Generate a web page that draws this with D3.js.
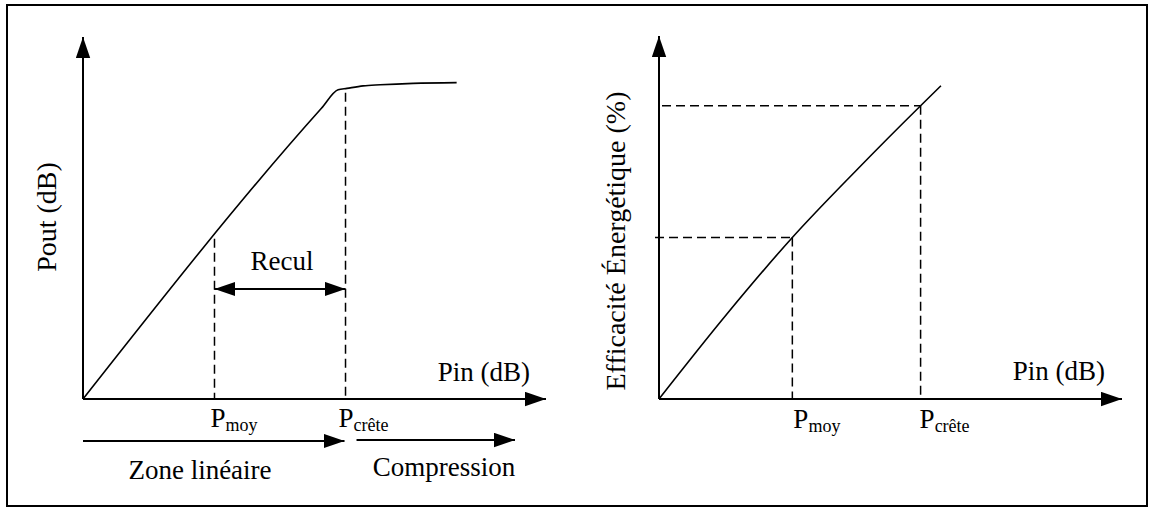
<!DOCTYPE html>
<html lang="fr">
<head>
    <meta charset="utf-8">
    <title>Recul et efficacité</title>
    <script src="https://d3js.org/d3.v7.min.js"></script>
    <style>
        body { margin: 0; background: #fff; }
    </style>
</head>
<body>
<div id="my_dataviz"></div>

<script>

// left chart : Pout vs Pin
var pinLeft  = [0, 51.5, 55.1, 57.0, 60.5, 64.2, 71.3, 80.7];
var poutLeft = [0, 80.3, 85.4, 85.8, 86.5, 86.8, 87.2, 87.4];

// right chart : efficiency vs Pin
var pinRight = [0, 14.4, 28.8, 42.7, 56.5, 60.9];
var effRight = [0, 23.0, 44.5, 63.1, 80.8, 86.3];

// reference powers
var pMoyLeft = 28.4, pCreteLeft = 56.7, reculLevel = 30.4;
var pMoyRight = 28.8, pCreteRight = 56.5;
var effMoy = 44.5, effCrete = 80.8;

var width = 1150, height = 508;
var serif = "'Liberation Serif', 'Times New Roman', Times, serif";

var svg = d3.select("#my_dataviz")
  .append("svg")
    .attr("width", width)
    .attr("height", height)
    .attr("font-family", serif);

svg.append("rect")
    .attr("x", 7).attr("y", 5)
    .attr("width", 1140).attr("height", 501)
    .attr("fill", "none")
    .attr("stroke", "#000")
    .attr("stroke-width", 2);

// arrow heads
var defs = svg.append("defs");
defs.append("marker")
    .attr("id", "head")
    .attr("markerUnits", "userSpaceOnUse")
    .attr("markerWidth", 22).attr("markerHeight", 15)
    .attr("refX", 21).attr("refY", 7.2)
    .attr("orient", "auto-start-reverse")
  .append("path")
    .attr("d", "M0,0 L21,7.2 L0,14.4 Z")
    .attr("fill", "#000");

function axes(g, x, y) {
  g.append("line")
      .attr("x1", x(0)).attr("y1", y(0))
      .attr("x2", x(100)).attr("y2", y(0))
      .attr("stroke", "#000").attr("stroke-width", 2)
      .attr("marker-end", "url(#head)");
  g.append("line")
      .attr("x1", x(0)).attr("y1", y(0))
      .attr("x2", x(0)).attr("y2", y(100))
      .attr("stroke", "#000").attr("stroke-width", 2)
      .attr("marker-end", "url(#head)");
}

function dashed(g, x1, y1, x2, y2) {
  g.append("line")
      .attr("x1", x1).attr("y1", y1)
      .attr("x2", x2).attr("y2", y2)
      .attr("stroke", "#000").attr("stroke-width", 1.5)
      .attr("stroke-dasharray", "9,5");
}

function label(g, x, y, size, txt) {
  return g.append("text")
      .attr("x", x).attr("y", y)
      .attr("font-family", serif)
      .attr("font-size", size)
      .attr("fill", "#000")
      .text(txt);
}

function subLabel(g, x, y, sub) {
  var t = label(g, x, y, 27, "P");
  t.append("tspan")
      .attr("dy", 4)
      .attr("font-size", 18)
      .text(sub);
}

// ---------- left chart
var xL = d3.scaleLinear().domain([0, 100]).range([83, 546]);
var yL = d3.scaleLinear().domain([0, 100]).range([399, 37]);
var gL = svg.append("g");
axes(gL, xL, yL);

var left = pinLeft.map(function(d, i) { return [d, poutLeft[i]]; });
gL.append("path")
    .datum(left)
    .attr("fill", "none")
    .attr("stroke", "#000")
    .attr("stroke-width", 1.6)
    .attr("d", d3.line()
      .x(function(d) { return xL(d[0]); })
      .y(function(d) { return yL(d[1]); })
      .curve(d3.curveMonotoneX));

// curve value at a given Pin (linear between points)
function interpLeft(v) {
  return d3.scaleLinear().domain(pinLeft).range(poutLeft)(v);
}

dashed(gL, xL(pMoyLeft), yL(interpLeft(pMoyLeft)), xL(pMoyLeft), yL(0));
dashed(gL, xL(pCreteLeft), yL(interpLeft(pCreteLeft)) + 4, xL(pCreteLeft), yL(0));

gL.append("line")
    .attr("x1", xL(pMoyLeft)).attr("y1", yL(reculLevel))
    .attr("x2", xL(pCreteLeft)).attr("y2", yL(reculLevel))
    .attr("stroke", "#000").attr("stroke-width", 2)
    .attr("marker-start", "url(#head)")
    .attr("marker-end", "url(#head)");

label(gL, (xL(pMoyLeft) + xL(pCreteLeft)) / 2 + 2, 270, 27, "Recul")
    .attr("text-anchor", "middle");

label(gL, 530, 381, 27, "Pin (dB)")
    .attr("text-anchor", "end");

label(gL, 0, 0, 28, "Pout (dB)")
    .attr("transform", "translate(56,217) rotate(-90)")
    .attr("text-anchor", "middle");

subLabel(gL, xL(pMoyLeft) - 4, 427, "moy");
subLabel(gL, xL(pCreteLeft) - 7, 427, "crête");

// zones under the axis
gL.append("line")
    .attr("x1", xL(0)).attr("y1", 441)
    .attr("x2", xL(pCreteLeft) - 1).attr("y2", 441)
    .attr("stroke", "#000").attr("stroke-width", 2)
    .attr("marker-end", "url(#head)");
gL.append("line")
    .attr("x1", xL(pCreteLeft) + 11).attr("y1", 440)
    .attr("x2", 515).attr("y2", 440)
    .attr("stroke", "#000").attr("stroke-width", 2)
    .attr("marker-end", "url(#head)");

label(gL, 200, 479, 27, "Zone linéaire")
    .attr("text-anchor", "middle");
label(gL, 444, 476, 27, "Compression")
    .attr("text-anchor", "middle");

// ---------- right chart
var xR = d3.scaleLinear().domain([0, 100]).range([659, 1122]);
var yR = d3.scaleLinear().domain([0, 100]).range([399, 36]);
var gR = svg.append("g");
axes(gR, xR, yR);

var right = pinRight.map(function(d, i) { return [d, effRight[i]]; });
gR.append("path")
    .datum(right)
    .attr("fill", "none")
    .attr("stroke", "#000")
    .attr("stroke-width", 1.6)
    .attr("d", d3.line()
      .x(function(d) { return xR(d[0]); })
      .y(function(d) { return yR(d[1]); })
      .curve(d3.curveMonotoneX));

dashed(gR, xR(0) - 4, yR(effMoy), xR(pMoyRight), yR(effMoy));
dashed(gR, xR(pMoyRight), yR(effMoy), xR(pMoyRight), yR(0));
dashed(gR, xR(0) + 3, yR(effCrete), xR(pCreteRight), yR(effCrete));
dashed(gR, xR(pCreteRight), yR(effCrete), xR(pCreteRight), yR(0));

label(gR, 1105, 380, 27, "Pin (dB)")
    .attr("text-anchor", "end");

label(gR, 0, 0, 28, "Efficacité Énergétique (%)")
    .attr("transform", "translate(625,241) rotate(-90)")
    .attr("text-anchor", "middle");

subLabel(gR, xR(pMoyRight) + 1, 428, "moy");
subLabel(gR, xR(pCreteRight) - 1, 428, "crête");

</script>
</body>
</html>
